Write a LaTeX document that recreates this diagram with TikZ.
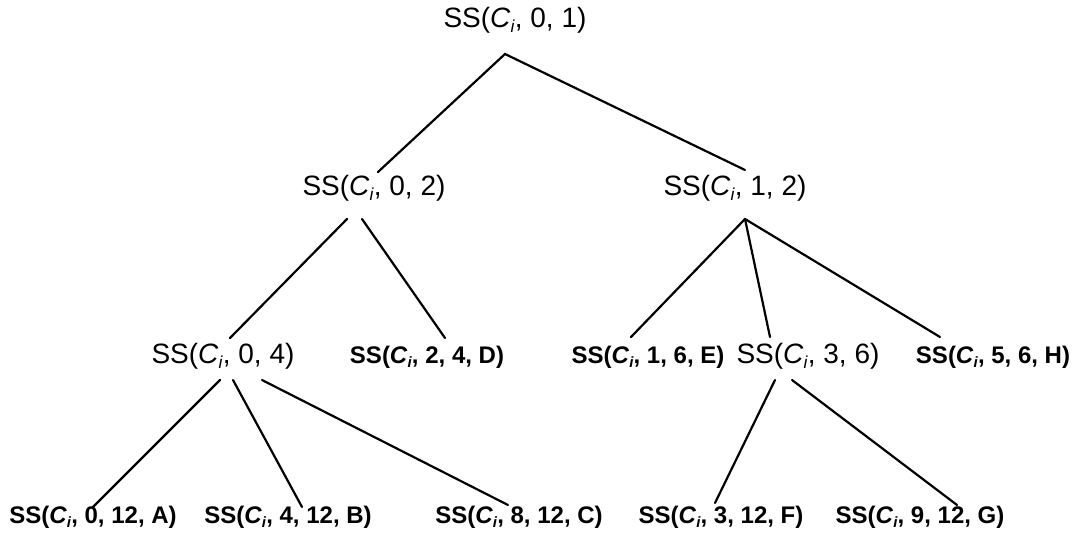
\documentclass[tikz,border=0pt]{standalone}
\usepackage{fontspec}
\usepackage{graphicx}
\setmainfont{Liberation Sans}
\newcommand{\Csub}{\textit{C}\raisebox{-0.35ex}{\scalebox{0.62}{\textit{i}}}}
\begin{document}
\begin{tikzpicture}[x=1pt,y=-1pt,
  reg/.style={anchor=base,inner sep=0pt,font=\fontsize{28}{30}\selectfont},
  bld/.style={anchor=base,inner sep=0pt,font=\fontsize{24}{26}\selectfont\bfseries},
  edge/.style={draw,line width=2.2pt,line cap=round}]
\useasboundingbox (0,0) rectangle (1082,533);
% nodes
\node[reg] (r)  at (515,27)  {SS(\Csub, 0, 1)};
\node[reg] (l2a) at (374,195) {SS(\Csub, 0, 2)};
\node[reg] (l2b) at (735,195) {SS(\Csub, 1, 2)};
\node[reg] (l3a) at (223,363) {SS(\Csub, 0, 4)};
\node[bld] (l3d) at (427,363) {SS(\Csub, 2, 4, D)};
\node[bld] (l3e) at (648,363) {SS(\Csub, 1, 6, E)};
\node[reg] (l3f) at (808,363) {SS(\Csub, 3, 6)};
\node[bld] (l3h) at (993,363) {SS(\Csub, 5, 6, H)};
\node[bld] (l4a) at (93,523)  {SS(\Csub, 0, 12, A)};
\node[bld] (l4b) at (288,523) {SS(\Csub, 4, 12, B)};
\node[bld] (l4c) at (519,523) {SS(\Csub, 8, 12, C)};
\node[bld] (l4f) at (721,523) {SS(\Csub, 3, 12, F)};
\node[bld] (l4g) at (920,523) {SS(\Csub, 9, 12, G)};
% connection points
\coordinate (r-s) at (505,54);
\coordinate (l2a-n) at (378,172);
\coordinate (l2b-n) at (745,170);
\coordinate (l2a-s1) at (347,219);
\coordinate (l2a-s2) at (362,219);
\coordinate (l2b-s) at (745,219);
\coordinate (l3a-n) at (230,338);
\coordinate (l3d-n) at (445,338);
\coordinate (l3e-n) at (631,337);
\coordinate (l3f-n) at (770,337);
\coordinate (l3h-n) at (940,337);
\coordinate (l3a-s1) at (220,380);
\coordinate (l3a-s2) at (233,380);
\coordinate (l3a-s3) at (262,380);
\coordinate (l3f-s1) at (775,380);
\coordinate (l3f-s2) at (792,380);
\coordinate (l4a-n) at (93,507);
\coordinate (l4b-n) at (302,507);
\coordinate (l4c-n) at (508,505);
\coordinate (l4f-n) at (715,503);
\coordinate (l4g-n) at (957,505);
% edges
\draw[edge] (l2a-n) -- (r-s) -- (l2b-n);
\draw[edge] (l2a-s1) -- (l3a-n);
\draw[edge] (l2a-s2) -- (l3d-n);
\draw[edge] (l2b-s) -- (l3e-n);
\draw[edge] (l2b-s) -- (l3f-n);
\draw[edge] (l2b-s) -- (l3h-n);
\draw[edge] (l3a-s1) -- (l4a-n);
\draw[edge] (l3a-s2) -- (l4b-n);
\draw[edge] (l3a-s3) -- (l4c-n);
\draw[edge] (l3f-s1) -- (l4f-n);
\draw[edge] (l3f-s2) -- (l4g-n);
\end{tikzpicture}
\end{document}
